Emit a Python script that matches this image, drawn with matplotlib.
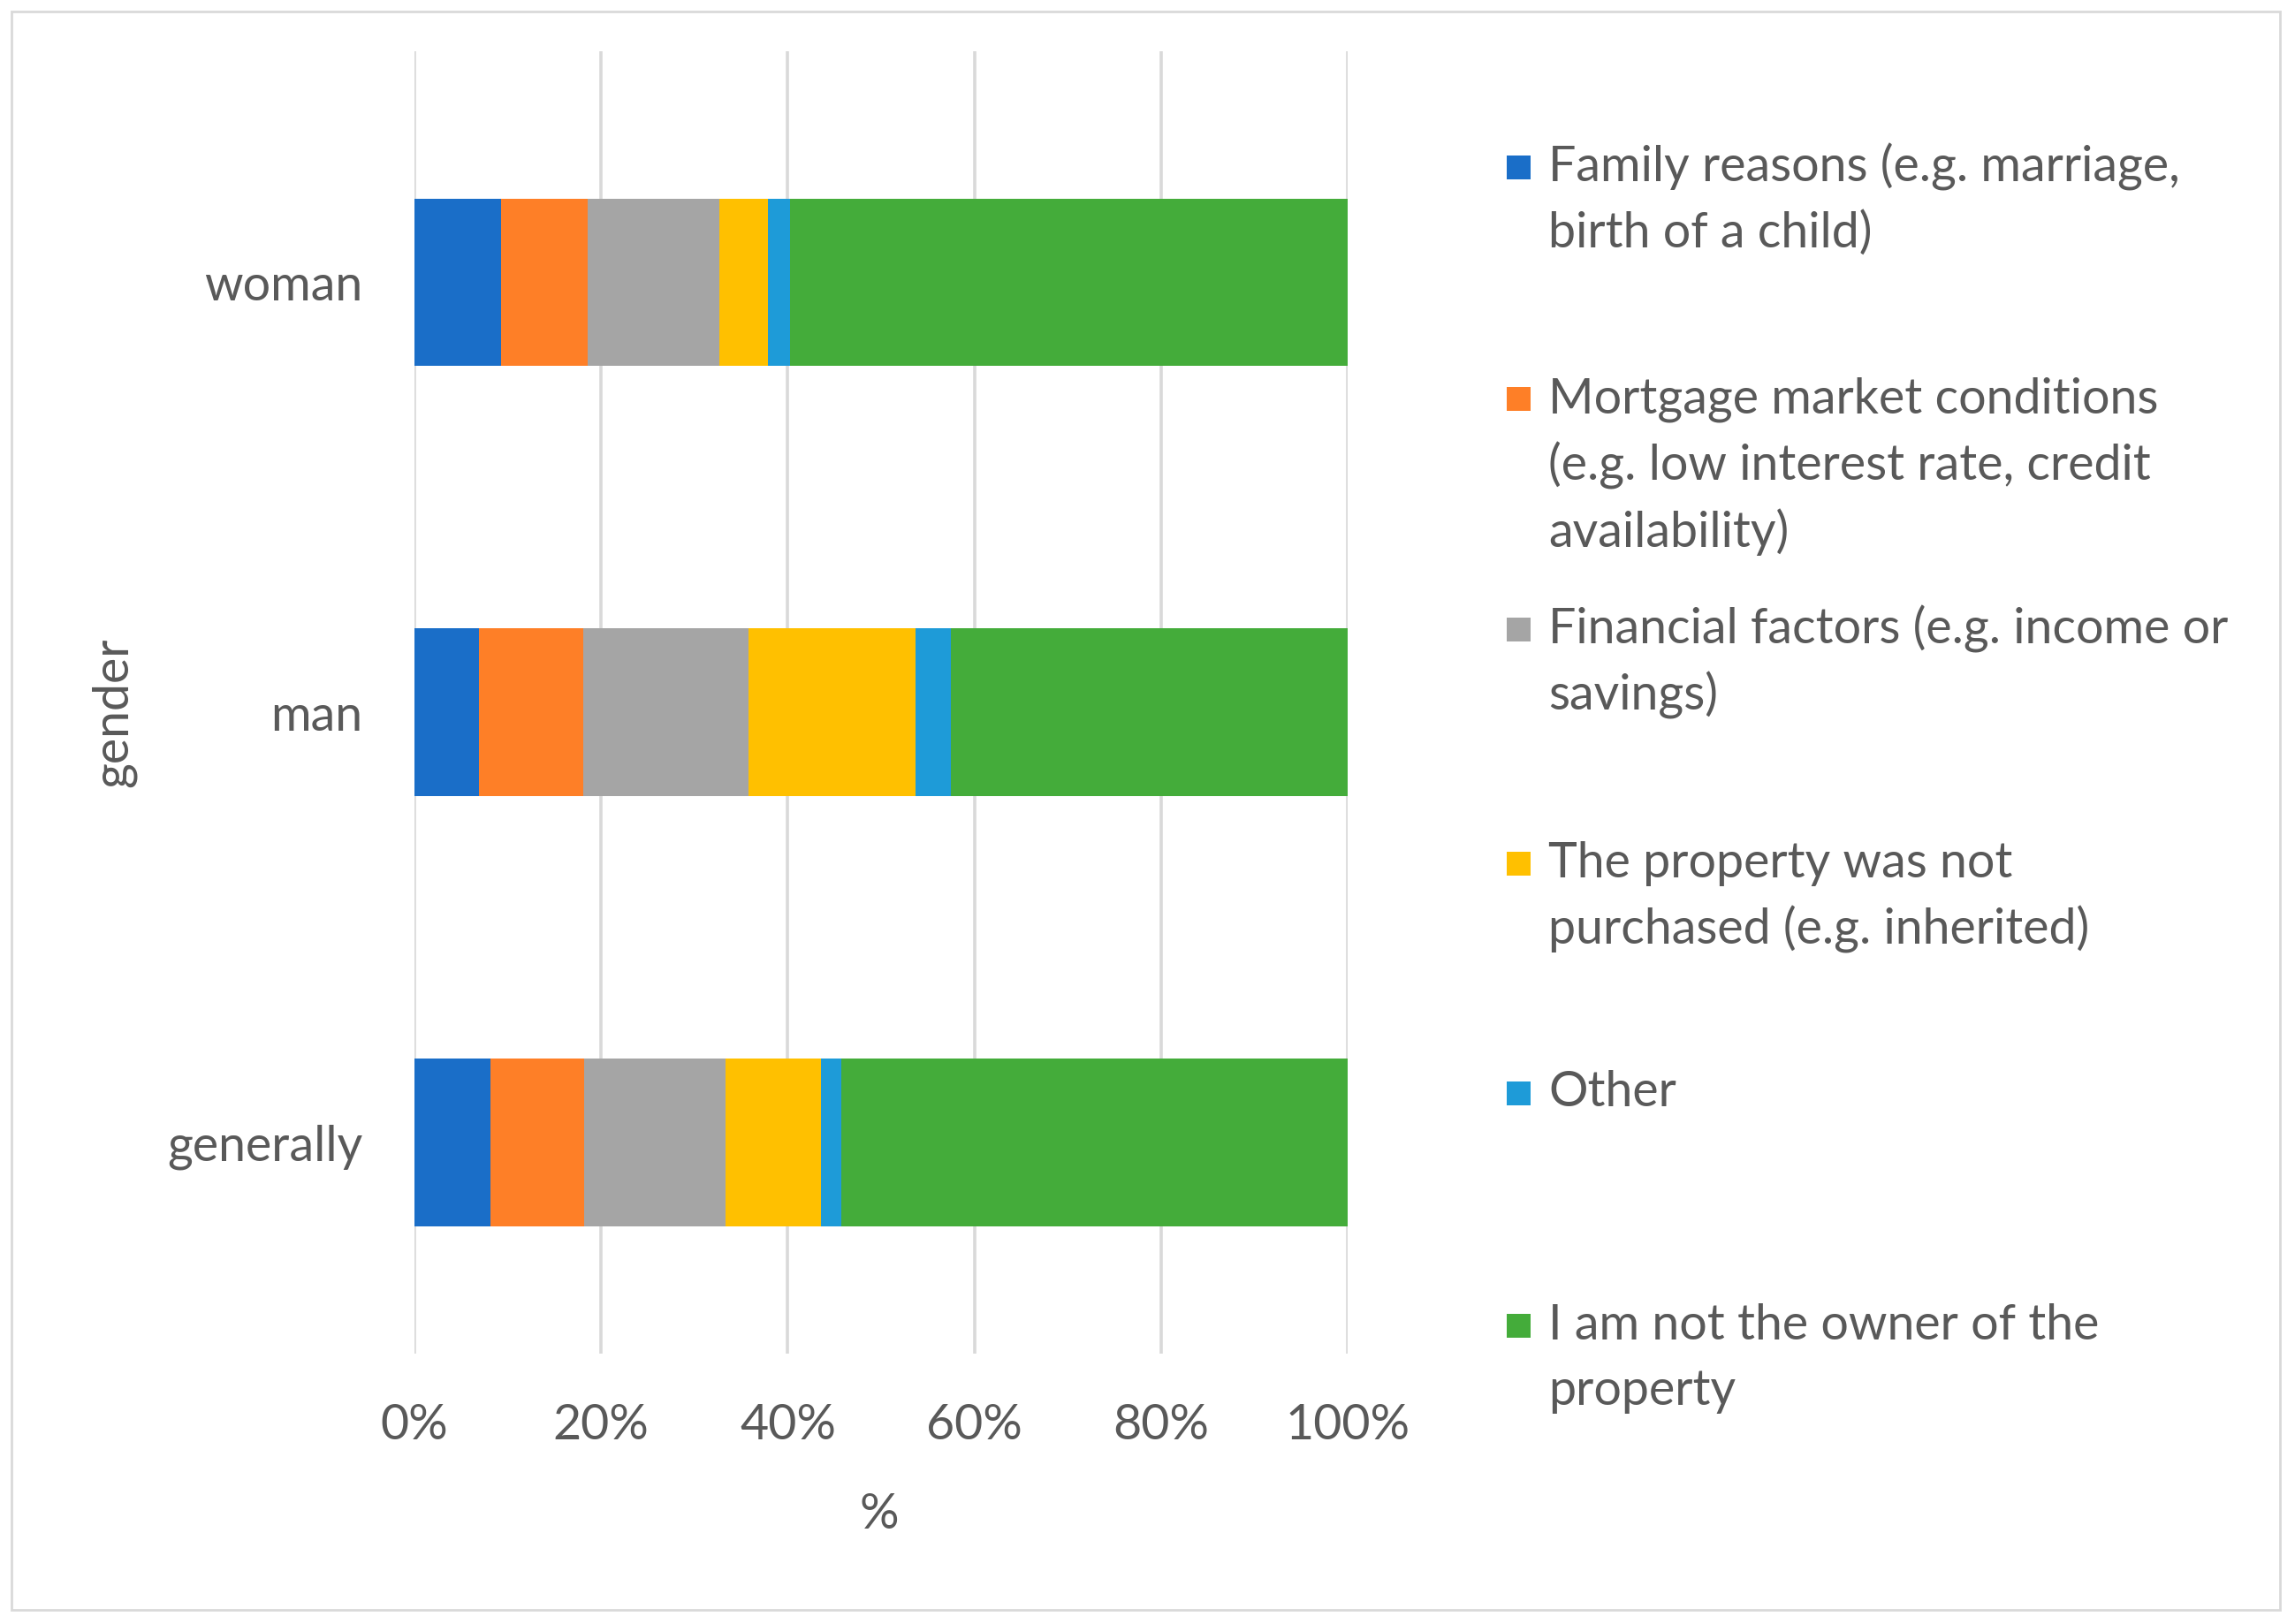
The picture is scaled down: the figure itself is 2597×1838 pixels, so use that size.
import matplotlib
matplotlib.use("Agg")
import matplotlib.pyplot as plt
from matplotlib.patches import Rectangle
import numpy as np

# data (percent shares per group)
groups = ["generally", "man", "woman"]
reasons = [
    "Family reasons (e.g. marriage,\nbirth of a child)",
    "Mortgage market conditions\n(e.g. low interest rate, credit\navailability)",
    "Financial factors (e.g. income or\nsavings)",
    "The property was not\npurchased (e.g. inherited)",
    "Other",
    "I am not the owner of the\nproperty",
]
family = [8.1, 6.9, 9.3]
mortgage = [10.1, 11.2, 9.3]
financial = [15.1, 17.7, 14.1]
not_purchased = [10.3, 17.9, 5.2]
other = [2.1, 3.8, 2.3]
not_owner = [54.3, 42.5, 59.8]
colors = ["#1a6ec8", "#fe7f27", "#a5a5a5", "#ffc000", "#1e9bd8", "#44ac3a"]
xticks = [0, 20, 40, 60, 80, 100]

W, H = 2597, 1838
DPI = 100
text_col = "#595959"
plt.rcParams["font.family"] = ["Lato", "DejaVu Sans"]
FS = 40

fig = plt.figure(figsize=(W / DPI, H / DPI), dpi=DPI)
ax = fig.add_axes([469 / W, 1 - 1532 / H, (1525 - 469) / W, (1532 - 58) / H])

series = [family, mortgage, financial, not_purchased, other, not_owner]
y = np.arange(len(groups))
left = np.zeros(len(groups))
for vals, c in zip(series, colors):
    ax.barh(y, vals, left=left, height=0.39, color=c, edgecolor="none", zorder=3)
    left = left + np.array(vals)

ax.set_xlim(0, 100)
ax.set_ylim(-0.49, 2.537)
ax.set_xticks(xticks)
ax.set_xticklabels([f"{t}%" for t in xticks])
ax.set_yticks(y)
ax.set_yticklabels(groups)
ax.tick_params(axis="x", length=0, pad=40, labelsize=FS, labelcolor=text_col)
ax.tick_params(axis="y", length=0, pad=42, labelsize=FS, labelcolor=text_col)
ax.grid(axis="x", color="#d9d9d9", linewidth=2.6, zorder=0)
ax.grid(axis="y", visible=False)
for s in ax.spines.values():
    s.set_visible(False)

fig.text(995 / W, 1 - 1714 / H, "%", ha="center", va="center", fontsize=FS, color=text_col)
fig.text(129 / W, 1 - 806 / H, "gender", ha="center", va="center", rotation=90,
         fontsize=FS, color=text_col)

# legend, laid out by hand like the Excel one
first_line = [189, 452, 712, 977, 1237, 1500]
line_gap = 75
sq = 27
for lab, c, y0 in zip(reasons, colors, first_line):
    fig.add_artist(Rectangle(((1719 - sq / 2) / W, 1 - (y0 + sq / 2) / H), sq / W, sq / H,
                             transform=fig.transFigure, facecolor=c, edgecolor="none"))
    for k, line in enumerate(lab.split("\n")):
        fig.text(1752 / W, 1 - (y0 + k * line_gap) / H, line, ha="left", va="center",
                 fontsize=FS, color=text_col)

fig.add_artist(Rectangle((13 / W, 1 - 1822 / H), (2580 - 13) / W, (1822 - 13) / H,
                         transform=fig.transFigure, facecolor="none",
                         edgecolor="#d9d9d9", linewidth=2))

fig.savefig("out.png", dpi=DPI)
